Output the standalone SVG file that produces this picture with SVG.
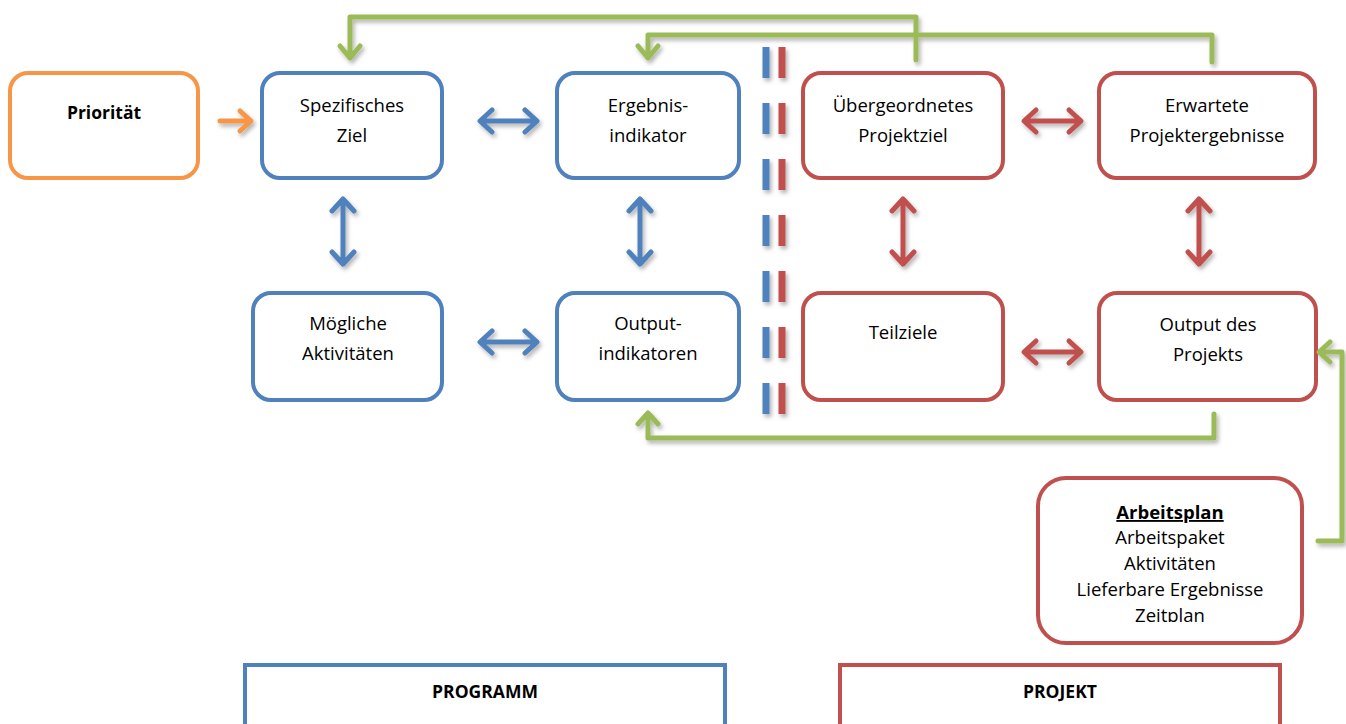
<svg xmlns="http://www.w3.org/2000/svg" width="1346" height="724" viewBox="0 0 1346 724">
<defs>
<filter id="sh" x="-20%" y="-20%" width="140%" height="140%">
<feDropShadow dx="2" dy="3" stdDeviation="2" flood-color="#000" flood-opacity="0.3"/>
</filter>
<filter id="shu" filterUnits="userSpaceOnUse" x="0" y="0" width="1346" height="724">
<feDropShadow dx="2" dy="3" stdDeviation="2" flood-color="#000" flood-opacity="0.3"/>
</filter>
<clipPath id="clipAP"><rect x="1030" y="470" width="280" height="152"/></clipPath>
</defs>
<style>
.box{fill:#fff;stroke-width:4}
.b{stroke:#4F81BD}
.r{stroke:#C0504D}
.o{stroke:#F79646}
.t{font-family:"Open Sans","Liberation Sans",sans-serif;font-size:18.5px;fill:#000;text-anchor:middle}
.bold{font-weight:bold;font-size:17.5px}
.conn{fill:none;stroke-width:5;stroke-linecap:round;stroke-linejoin:round;filter:url(#shu)}
.ga{fill:none;stroke:#9BBB59;stroke-width:5;stroke-linecap:round;stroke-linejoin:round}
.dash{fill:none;stroke-width:7;stroke-dasharray:31 25}
</style>

<g id="node-prioritaet">
<rect class="box o" x="10" y="73" width="188" height="105" rx="18"/>
<text class="t bold" x="104" y="119">Priorität</text>
</g>
<g id="node-spezifisches-ziel">
<rect class="box b" x="262" y="73" width="180" height="105" rx="18"/>
<text class="t" x="352" y="112">Spezifisches</text>
<text class="t" x="352" y="142">Ziel</text>
</g>
<g id="node-ergebnisindikator">
<rect class="box b" x="557" y="73" width="182" height="105" rx="18"/>
<text class="t" x="648" y="112">Ergebnis-</text>
<text class="t" x="648" y="142">indikator</text>
</g>
<g id="node-projektziel">
<rect class="box r" x="803" y="73" width="200" height="105" rx="18"/>
<text class="t" x="903" y="112">Übergeordnetes</text>
<text class="t" x="903" y="142">Projektziel</text>
</g>
<g id="node-projektergebnisse">
<rect class="box r" x="1099" y="73" width="216" height="105" rx="18"/>
<text class="t" x="1207" y="112">Erwartete</text>
<text class="t" x="1207" y="142">Projektergebnisse</text>
</g>
<g id="node-aktivitaeten">
<rect class="box b" x="253" y="293" width="189" height="107" rx="18"/>
<text class="t" x="348" y="330">Mögliche</text>
<text class="t" x="348" y="360">Aktivitäten</text>
</g>
<g id="node-outputindikatoren">
<rect class="box b" x="557" y="293" width="182" height="107" rx="18"/>
<text class="t" x="648" y="330">Output-</text>
<text class="t" x="648" y="360">indikatoren</text>
</g>
<g id="node-teilziele">
<rect class="box r" x="803" y="293" width="200" height="107" rx="18"/>
<text class="t" x="903" y="339">Teilziele</text>
</g>
<g id="node-output-projekt">
<rect class="box r" x="1099" y="293" width="217" height="107" rx="18"/>
<text class="t" x="1208" y="331">Output des</text>
<text class="t" x="1208" y="361">Projekts</text>
</g>
<g id="node-arbeitsplan">
<rect class="box r" x="1038" y="478" width="264" height="165" rx="28"/>
<g clip-path="url(#clipAP)">
<text class="t bold" x="1170" y="519" text-decoration="underline" style="font-size:18.5px">Arbeitsplan</text>
<text class="t" x="1170" y="544">Arbeitspaket</text>
<text class="t" x="1170" y="570">Aktivitäten</text>
<text class="t" x="1170" y="596">Lieferbare Ergebnisse</text>
<text class="t" x="1170" y="622">Zeitplan</text>
</g>
</g>
<g id="node-programm">
<rect class="box b" x="245" y="665" width="480" height="80"/>
<text class="t bold" x="485" y="698">PROGRAMM</text>
</g>
<g id="node-projekt">
<rect class="box r" x="840" y="665" width="440" height="80"/>
<text class="t bold" x="1060" y="698">PROJEKT</text>
</g>

<g id="divider" filter="url(#shu)">
<line class="dash b" x1="766" y1="47" x2="766" y2="415"/>
<line class="dash r" x1="782" y1="47" x2="782" y2="415"/>
</g>

<g id="connectors">
<path class="conn o" d="M220,121 H250 M240,111 L251,121 L240,131"/>
<path class="conn b" d="M481,121 H536 M492,110 L480,121 L492,132 M525,110 L537,121 L525,132"/>
<path class="conn r" d="M1025,121 H1080 M1036,110 L1024,121 L1036,132 M1069,110 L1081,121 L1069,132"/>
<path class="conn b" d="M481,342 H536 M492,331 L480,342 L492,353 M525,331 L537,342 L525,353"/>
<path class="conn r" d="M1025,352 H1080 M1036,341 L1024,352 L1036,363 M1069,341 L1081,352 L1069,363"/>
<path class="conn b" d="M343,199 V264 M332,211 L343,199 L354,211 M332,252 L343,264 L354,252"/>
<path class="conn b" d="M640,199 V264 M629,211 L640,199 L651,211 M629,252 L640,264 L651,252"/>
<path class="conn r" d="M903,199 V264 M892,211 L903,199 L914,211 M892,252 L903,264 L914,252"/>
<path class="conn r" d="M1199,199 V264 M1188,211 L1199,199 L1210,211 M1188,252 L1199,264 L1210,252"/>
<g filter="url(#shu)">
<path class="ga" d="M916,60 V17 H350 V58 M340,46 L350,58 L360,46"/>
<path class="ga" d="M1212,62 V35 H648 V58 M638,46 L648,58 L658,46"/>
<path class="ga" d="M1214,414 V438 H648 V414 M638,424 L648,413 L658,424"/>
<path class="ga" d="M1318,541 H1342 V352 H1320 M1330,342 L1319,352 L1330,362"/>
</g>
</g>
</svg>
